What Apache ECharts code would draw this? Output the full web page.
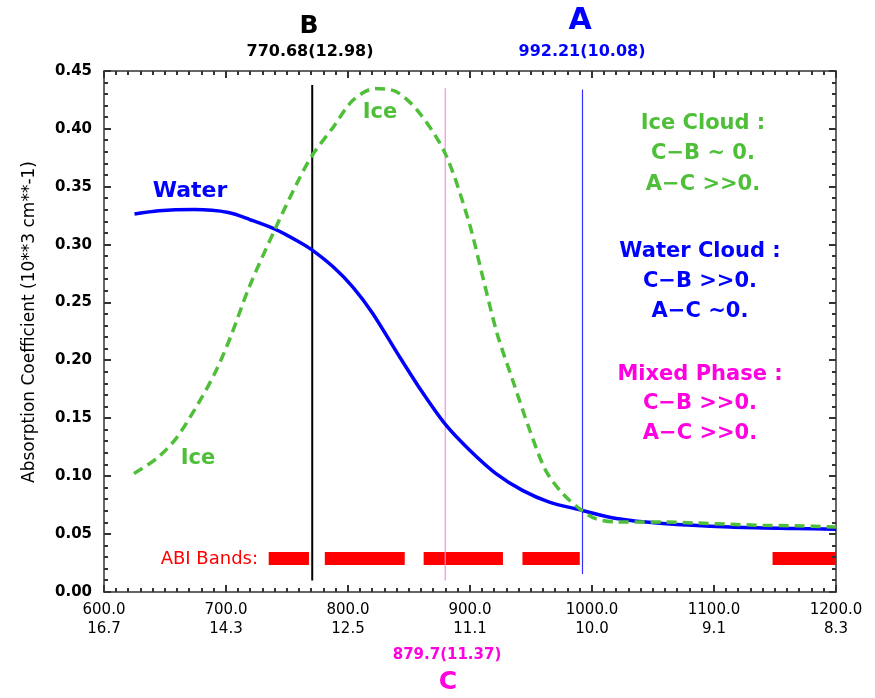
<!DOCTYPE html>
<html><head><meta charset="utf-8">
<script src="https://cdn.jsdelivr.net/npm/echarts@6/dist/echarts.min.js"></script>
<style>html,body{margin:0;padding:0;background:#fff}#c{width:875px;height:698px}</style>
</head><body><div id="c"></div>
<script>
// Wavenumber ticks (cm-1) and wavelength labels (um)
const wnTicks = [600, 700, 800, 900, 1000, 1100, 1200];
const wlLabels = ['16.7', '14.3', '12.5', '11.1', '10.0', '9.1', '8.3'];
const xMin = 600, xMax = 1200, xMinorStep = 10, xMajorStep = 100;
const yMin = 0, yMax = 0.45, yMinorStep = 0.01, yMajorStep = 0.05;

// Water absorption coefficient [wavenumber, value]
const water = [[625,0.3264],[645,0.3293],[674,0.3303],[702,0.3278],[720,0.3215],[741,0.3130],[760,0.3023],[771,0.2951],[788,0.2807],[804,0.2634],[820,0.2410],[840,0.2070],[860,0.1740],[880,0.1445],[900,0.1222],[921,0.1025],[943,0.0878],[965,0.0777],[991.5,0.0706],[1020,0.0634],[1058,0.0591],[1113,0.0561],[1167,0.0548],[1200,0.0542]];
// Ice absorption coefficient
const ice = [[624.6,0.1023],[643,0.1152],[659,0.1325],[678,0.1641],[692,0.1915],[704,0.2210],[719,0.2634],[741,0.3152],[758,0.3527],[770.7,0.3772],[788,0.4016],[804,0.4247],[822,0.4348],[840,0.4319],[859,0.4132],[880,0.3780],[899,0.3200],[910,0.2740],[922,0.2240],[935,0.1829],[949,0.1397],[962,0.1051],[976,0.0850],[991.5,0.0706],[1003,0.0634],[1020,0.0605],[1058,0.0605],[1085,0.0596],[1113,0.0585],[1140,0.0576],[1167,0.0572],[1200,0.0561]];

// Channel lines: B, C, A
const chanB = [[770.68,0.010],[770.68,0.438]];
const chanC = [[879.7,0.010],[879.7,0.435]];
const chanA = [[992.21,0.0155],[992.21,0.434]];

// ABI bands (wavenumber ranges) at level
const bandStart = [735, 781, 862, 943, 1148];
const bandEnd   = [768, 846.5, 927, 990, 1200];
const bandLevel = 0.029;

// tick positions along the frame (axis structure, not data)
const xTickVals = [];
for (let i = 0; i <= Math.round((xMax - xMin) / xMinorStep); i++) xTickVals.push([xMin + i * xMinorStep, yMin]);
const yTickVals = [];
for (let i = 0; i <= Math.round((yMax - yMin) / yMinorStep); i++) yTickVals.push([xMin, +(yMin + i * yMinorStep).toFixed(2)]);

const chart = echarts.init(document.getElementById('c'), null, {renderer: 'canvas'});

const axisCol = '#333';
const tickCol = '#333';
const bandSeries = bandStart.map((s, i) => ({
  type: 'line', data: [[s, bandLevel], [bandEnd[i], bandLevel]],
  symbol: 'none', silent: true, z: 3,
  lineStyle: {color: '#ff0000', width: 13, cap: 'butt'}
}));

const TF = '"DejaVu Sans", Verdana, sans-serif';
function txt(x, y, text, color, size, weight) {
  return {type: 'text', x: x, y: y, z: 10, style: {text: text, fill: color, font: (weight||'bold') + ' ' + size + 'px ' + TF, textAlign: 'center', textVerticalAlign: 'middle'}};
}
const green = '#4fbf3a', blue = '#0000ff', mag = '#ff00e0';

function frameAxis(extra) {
  return Object.assign({
    type: 'value',
    axisLine: {show: true, onZero: false, lineStyle: {color: axisCol, width: 1.5}},
    axisTick: {show: false}, minorTick: {show: false},
    splitLine: {show: false}
  }, extra);
}

const xTickSeries = {
  type: 'custom', silent: true, z: 8, clip: false, data: xTickVals, encode: {x: 0, y: 1},
  renderItem: (params, api) => {
    const v = api.value(0);
    const major = Math.abs((v - xMin) / xMajorStep - Math.round((v - xMin) / xMajorStep)) < 1e-6;
    const len = major ? 7 : 4;
    const b = api.coord([v, yMin]), t = api.coord([v, yMax]);
    const x = Math.round(b[0]);
    return {type: 'group', children: [
      {type: 'line', shape: {x1: x, y1: b[1], x2: x, y2: b[1] - len}, style: {stroke: tickCol, lineWidth: 2}},
      {type: 'line', shape: {x1: x, y1: t[1], x2: x, y2: t[1] + len}, style: {stroke: tickCol, lineWidth: 2}}
    ]};
  }
};
const yTickSeries = {
  type: 'custom', silent: true, z: 8, clip: false, data: yTickVals, encode: {x: 0, y: 1},
  renderItem: (params, api) => {
    const v = api.value(1);
    const major = Math.abs((v - yMin) / yMajorStep - Math.round((v - yMin) / yMajorStep)) < 1e-6;
    const len = major ? 7 : 4;
    const l = api.coord([xMin, v]), r = api.coord([xMax, v]);
    const y = Math.round(l[1]);
    return {type: 'group', children: [
      {type: 'line', shape: {x1: l[0], y1: y, x2: l[0] + len, y2: y}, style: {stroke: tickCol, lineWidth: 2}},
      {type: 'line', shape: {x1: r[0], y1: y, x2: r[0] - len, y2: y}, style: {stroke: tickCol, lineWidth: 2}}
    ]};
  }
};

chart.setOption({
  animation: false,
  backgroundColor: '#fff',
  grid: {left: 104, top: 71, right: 39, bottom: 106, show: false},
  xAxis: [frameAxis({
    min: xMin, max: xMax, interval: xMajorStep, position: 'bottom',
    axisLabel: {margin: 9, color: '#000', fontFamily: 'DejaVu Sans', fontSize: 15, lineHeight: 19,
      formatter: v => { const i = wnTicks.indexOf(v); return v.toFixed(1) + '\n' + (i >= 0 ? wlLabels[i] : ''); }}
  }), frameAxis({
    min: xMin, max: xMax, interval: xMajorStep, position: 'top', axisLabel: {show: false}
  })],
  yAxis: [frameAxis({
    min: yMin, max: yMax, interval: yMajorStep, position: 'left',
    axisLabel: {margin: 12, color: '#000', fontFamily: 'DejaVu Sans', fontWeight: 'bold', fontSize: 15,
      formatter: v => v.toFixed(2)}
  }), frameAxis({
    min: yMin, max: yMax, interval: yMajorStep, position: 'right', axisLabel: {show: false}
  })],
  series: [
    {type: 'line', name: 'Water', data: water, smooth: 0.3, symbol: 'none', z: 5,
      lineStyle: {color: blue, width: 3.5}},
    {type: 'line', name: 'Ice', data: ice, smooth: 0.3, symbol: 'none', z: 6,
      lineStyle: {color: green, width: 3.5, type: [10, 6]}},
    {type: 'line', name: 'B', data: chanB, symbol: 'none', z: 4, lineStyle: {color: '#000', width: 2}},
    {type: 'line', name: 'C', data: chanC, symbol: 'none', z: 4, lineStyle: {color: '#ff88dd', width: 1.2}},
    {type: 'line', name: 'A', data: chanA, symbol: 'none', z: 4, lineStyle: {color: '#3333ff', width: 1.2}},
    xTickSeries, yTickSeries
  ].concat(bandSeries),
  graphic: [
    {type: 'text', x: 30, y: 322, rotation: Math.PI / 2, z: 10,
      style: {text: 'Absorption Coefficient (10**3 cm**-1)', fill: '#000', font: 'normal 17px ' + TF, textAlign: 'center', textVerticalAlign: 'middle'}},
    txt(309, 26, 'B', '#000', 25),
    txt(310, 52, '770.68(12.98)', '#000', 16),
    txt(580, 21, 'A', blue, 30),
    txt(582, 52, '992.21(10.08)', blue, 16),
    txt(447, 655, '879.7(11.37)', mag, 15),
    txt(448, 682, 'C', mag, 25),
    txt(190, 191, 'Water', blue, 22),
    txt(380, 113, 'Ice', green, 21),
    txt(198, 459, 'Ice', green, 21),
    {type: 'text', x: 258, y: 559, z: 10, style: {text: 'ABI Bands:', fill: '#ff0000', font: 'normal 18px ' + TF, textAlign: 'right', textVerticalAlign: 'middle'}},
    txt(703, 124, 'Ice Cloud :', green, 21),
    txt(703, 154, 'C\u2212B ~ 0.', green, 21),
    txt(703, 185, 'A\u2212C >>0.', green, 21),
    txt(700, 252, 'Water Cloud :', blue, 21),
    txt(700, 282, 'C\u2212B >>0.', blue, 21),
    txt(700, 312, 'A\u2212C ~0.', blue, 21),
    txt(700, 375, 'Mixed Phase :', mag, 21),
    txt(700, 404, 'C\u2212B >>0.', mag, 21),
    txt(700, 434, 'A\u2212C >>0.', mag, 21)
  ]
});
</script></body></html>
